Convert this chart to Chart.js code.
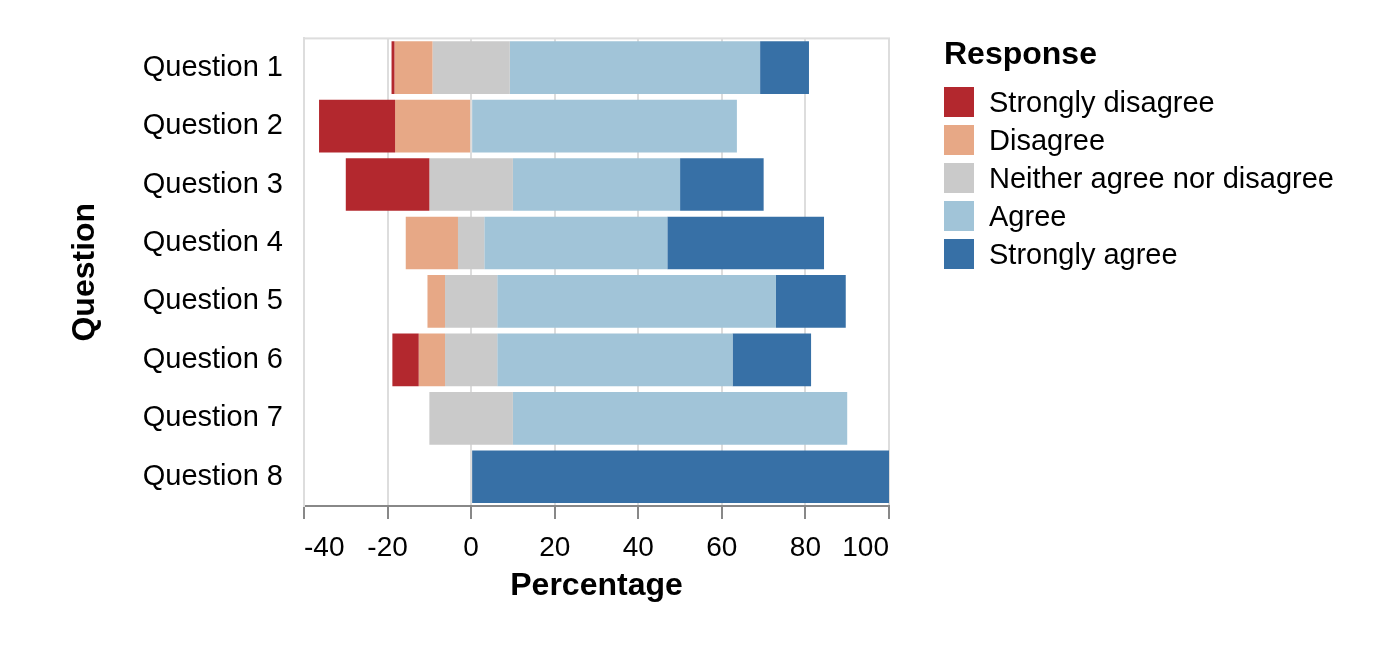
<!DOCTYPE html>
<html lang="en">
<head>
<meta charset="UTF-8">
<title>Likert responses by question</title>
<script src="https://cdn.jsdelivr.net/npm/chart.js@4.4.1/dist/chart.umd.min.js"></script>
<style>
    html, body { margin: 0; padding: 0; background: #fff; }
    body {
        width: 1380px; height: 648px; overflow: hidden; position: relative;
        font-family: "Liberation Sans", Arial, Helvetica, sans-serif; color: #000;
    }
    #wrap { position: absolute; left: 0; top: 0; width: 1380px; height: 648px; }
    #legend {
        position: absolute; left: 944px; top: 35px; width: 391px;
        overflow: hidden; white-space: nowrap;
    }
    .legend-title { font-size: 32px; font-weight: bold; line-height: 36px; margin-bottom: 12px; }
    .legend-row { display: flex; align-items: center; height: 38px; }
    .legend-swatch { width: 30px; height: 30px; flex: 0 0 30px; margin-right: 15px; }
    .legend-label { font-size: 29px; line-height: 38px; }
</style>
</head>
<body>
<div id="wrap"><canvas id="likertChart"></canvas></div>
<div id="legend"><div class="legend-title">Response</div></div>

<script>
// Percentages per question, one array per response type
const questions = ['Question 1', 'Question 2', 'Question 3', 'Question 4',
                   'Question 5', 'Question 6', 'Question 7', 'Question 8'];
const responses = ['Strongly disagree', 'Disagree', 'Neither agree nor disagree', 'Agree', 'Strongly agree'];

const stronglyDisagree = [0.7, 18.2, 20, 0, 0, 6.3, 0, 0];
const disagree         = [9.1, 18.2, 0, 12.5, 4.2, 6.3, 0, 0];
const neither          = [18.5, 0, 20, 6.3, 12.5, 12.5, 20, 0];
const agree            = [59.9, 63.6, 40, 43.8, 66.7, 56.3, 80, 0];
const stronglyAgree    = [11.7, 0, 20, 37.5, 16.7, 18.8, 0, 100];

const xMin = -40, xMax = 100, xStep = 20;

const colors = ['#b3282e', '#e7a886', '#cacaca', '#a1c4d8', '#3770a6'];

// build floating spans, centred on the middle of "neither"
const series = [stronglyDisagree, disagree, neither, agree, stronglyAgree];
const spans = series.map(() => []);
questions.forEach((q, i) => {
    let start = -(stronglyDisagree[i] + disagree[i] + neither[i] / 2);
    series.forEach((s, k) => {
        spans[k].push([start, start + s[i]]);
        start += s[i];
    });
});

Chart.defaults.font.family = '"Liberation Sans", Arial, Helvetica, sans-serif';
Chart.defaults.color = '#000';

// light frame around the plot area (drawn under the axes)
const plotFrame = {
    id: 'plotFrame',
    beforeDraw(chart) {
        const {ctx, chartArea: a} = chart;
        ctx.save();
        ctx.strokeStyle = '#ddd';
        ctx.lineWidth = 2;
        ctx.strokeRect(a.left, a.top, a.right - a.left, a.bottom - a.top);
        ctx.restore();
    }
};

const chart = new Chart(document.getElementById('likertChart'), {
    type: 'bar',
    data: {
        labels: questions,
        datasets: responses.map((name, k) => ({
            label: name,
            data: spans[k],
            backgroundColor: colors[k],
            borderWidth: 0,
            grouped: false,
            barPercentage: 0.9,
            categoryPercentage: 1.0
        }))
    },
    options: {
        indexAxis: 'y',
        responsive: true,
        maintainAspectRatio: false,
        animation: false,
        layout: { padding: { left: 0, right: 491, top: 38, bottom: 0 } },
        plugins: {
            legend: { display: false }
        },
        scales: {
            x: {
                type: 'linear',
                min: xMin,
                max: xMax,
                ticks: { stepSize: xStep, align: 'inner', padding: 12, font: { size: 28 } },
                grid: { color: '#ddd', lineWidth: 2, tickColor: '#888', tickWidth: 2, tickLength: 13 },
                border: { color: '#888', width: 2 },
                title: {
                    display: true, text: 'Percentage',
                    font: { size: 32, weight: 'bold' },
                    padding: { top: 0, bottom: 43 }
                },
                afterFit(scale) { scale.height = 142; }
            },
            y: {
                ticks: { padding: 21, font: { size: 29 } },
                grid: { display: false, drawTicks: false },
                border: { color: '#ddd', width: 2 },
                title: {
                    display: true, text: 'Question',
                    font: { size: 32, weight: 'bold' },
                    padding: { top: 66, bottom: 0 }
                },
                afterFit(scale) { scale.width = 304; }
            }
        }
    },
    plugins: [plotFrame]
});

// HTML legend
const legendEl = document.getElementById('legend');
responses.forEach((name, k) => {
    const row = document.createElement('div');
    row.className = 'legend-row';
    row.innerHTML = '<span class="legend-swatch" style="background:' + colors[k] + '"></span>' +
                    '<span class="legend-label">' + name + '</span>';
    legendEl.appendChild(row);
});
</script>
</body>
</html>
